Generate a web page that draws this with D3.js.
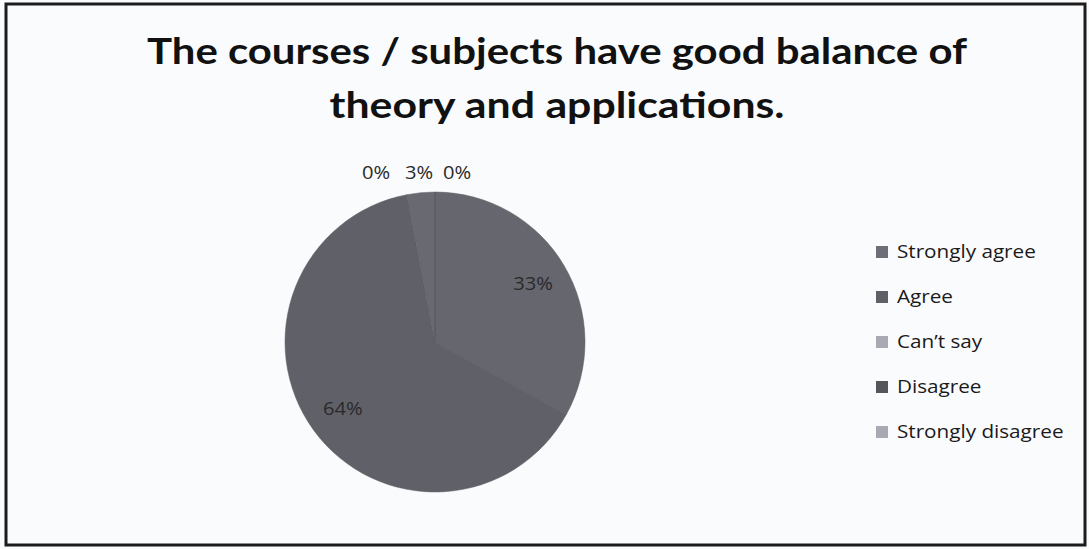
<!DOCTYPE html>
<html>
<head>
<meta charset="utf-8">
<script src="https://cdn.jsdelivr.net/npm/d3@7"></script>
<style>
  body { margin: 0; background: #fafbfd; }
  svg { display: block; }
</style>
</head>
<body>
<div id="chart"></div>
<script>
// data
var categories = ['Strongly agree', 'Agree', "Can\u2019t say", 'Disagree', 'Strongly disagree']
var values = [33, 64, 3, 0, 0]
var sliceColors = ['#65666e', '#606168', '#696a71', '#55565d', '#a9a8b2']
var legendColors = ['#6e6e78', '#5f5f68', '#aaa8b2', '#55555c', '#aaa8b2']
var titleLines = ['The courses / subjects have good balance of', 'theory and applications.']

var width = 1089, height = 549

var svg = d3.select('#chart')
  .append('svg')
    .attr('width', width)
    .attr('height', height)

// outer frame
svg.append('rect')
  .attr('x', 6).attr('y', 4)
  .attr('width', 1079).attr('height', 541)
  .attr('fill', '#fafbfd')
  .attr('stroke', '#1c1c1c')
  .attr('stroke-width', 3)

// title (the scan is a bit stretched sideways, so fit the widths)
var titleWidths = [820, 455]
svg.append('g')
  .selectAll('text')
  .data(titleLines)
  .enter()
  .append('text')
    .attr('x', 557)
    .attr('y', function(d, i) { return 64 + i * 54 })
    .attr('text-anchor', 'middle')
    .attr('font-family', 'Lato, "Open Sans", sans-serif')
    .attr('font-weight', 'bold')
    .attr('font-size', 36)
    .attr('fill', '#111')
    .attr('textLength', function(d, i) { return titleWidths[i] })
    .attr('lengthAdjust', 'spacingAndGlyphs')
    .text(function(d) { return d })

// pie
var cx = 435, cy = 342, radius = 150

var pie = d3.pie()
  .sort(null)
  .value(function(d) { return d })

var arcs = pie(values)

var arc = d3.arc()
  .innerRadius(0)
  .outerRadius(radius)

var g = svg.append('g')
  .attr('transform', 'translate(' + cx + ',' + cy + ')')

g.selectAll('path')
  .data(arcs)
  .enter()
  .append('path')
    .attr('d', arc)
    .attr('fill', function(d, i) { return sliceColors[i] })
    .attr('stroke', '#5c5d65')
    .attr('stroke-width', 0.5)

// labels: big slices inside, small ones above the rim, spread sideways
var labelArc = d3.arc().innerRadius(radius * 0.76).outerRadius(radius * 0.76)
var smallShift = { 2: -16, 3: -59, 4: 22 }

g.selectAll('text.lbl')
  .data(arcs)
  .enter()
  .append('text')
    .attr('class', 'lbl')
    .attr('transform', function(d, i) {
      if (d.data >= 10) {
        var c = labelArc.centroid(d)
        return 'translate(' + c[0] + ',' + c[1] + ') scale(1.12,1)'
      }
      return 'translate(' + (smallShift[i] || 0) + ',' + (-radius - 19) + ') scale(1.12,1)'
    })
    .attr('text-anchor', 'middle')
    .attr('dy', '0.35em')
    .attr('font-family', '"Open Sans", sans-serif')
    .attr('font-size', 18)
    .attr('fill', '#2a2a2a')
    .text(function(d) { return d.data + '%' })

// legend
var legend = svg.append('g')
  .attr('transform', 'translate(882,252)')

var item = legend.selectAll('g')
  .data(categories)
  .enter()
  .append('g')
    .attr('transform', function(d, i) { return 'translate(0,' + i * 45 + ')' })

item.append('rect')
  .attr('x', -6).attr('y', -6)
  .attr('width', 12).attr('height', 12)
  .attr('fill', function(d, i) { return legendColors[i] })

item.append('text')
  .attr('x', 13)
  .attr('dy', '0.35em')
  .attr('font-family', '"Open Sans", sans-serif')
  .attr('font-size', 18)
  .attr('fill', '#1a1a1a')
  .attr('transform', 'scale(1.15,1)')
  .text(function(d) { return d })
</script>
</body>
</html>
